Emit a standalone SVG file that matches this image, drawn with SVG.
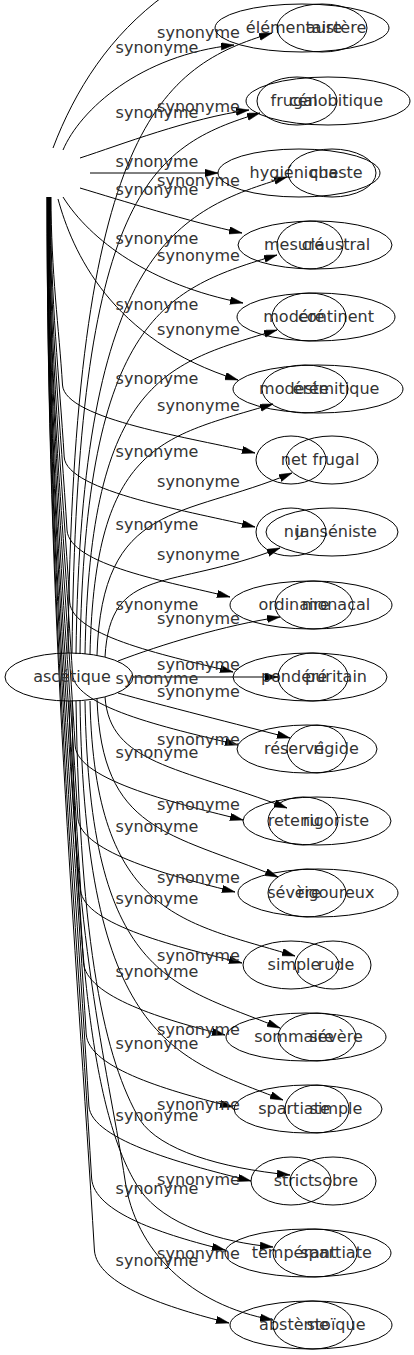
<svg xmlns="http://www.w3.org/2000/svg" width="414" height="1355" viewBox="0 0 414 1355">
<style>
.nd ellipse{fill:none;stroke:#000;stroke-width:1}
.nd text{font-family:"DejaVu Sans",sans-serif;font-size:16px;fill:#333;text-anchor:middle}
#connectors path{fill:none;stroke:#000;stroke-width:1}
#connectors path.a{marker-end:url(#arr)}
#labels text{font-family:"DejaVu Sans",sans-serif;font-size:16px;fill:#333;text-anchor:middle}
</style>
<defs>
<marker id="arr" markerUnits="userSpaceOnUse" markerWidth="14" markerHeight="8" refX="13" refY="3.75" orient="auto">
<path d="M0,0 L13,3.75 L0,7.5 Z" fill="#000" stroke="#000" stroke-width="0.5"/>
</marker>
</defs>
<rect width="414" height="1355" fill="#fff"/>
<g id="connectors">
<path d="M53,148 C75,90 110,35 165,-5"/>
<path class="a" d="M63,150 C80,110 140,55 234,45"/>
<path class="a" d="M80,158 C120,145 190,118 249,110"/>
<path class="a" d="M90,173 L218,173"/>
<path class="a" d="M80,188 C120,200 190,222 242,233"/>
<path class="a" d="M63,197 C90,240 150,285 243,303"/>
<path class="a" d="M58,199 C72,250 110,340 238,380"/>
<path class="a" d="M51,197 C51,272 59.1,328.6 62.5,385 C64.6,420 195,438 255,453"/>
<path class="a" d="M50.5,197 C50.5,301 59.5,379 64.2,457 C66.3,492 195,512 255,527"/>
<path class="a" d="M50,197 C50,330 61,430 67,530 C69.1,565 170,582 230,597"/>
<path class="a" d="M49.5,197 C49.5,359 62.4,480.5 69.7,602 C71.8,637 173,657 233,672"/>
<path class="a" d="M49,197 C49,388 63.9,531 72.5,674 C74.6,709 178,730 238,745"/>
<path class="a" d="M49,197 C49,417 65.3,581.3 75.2,746 C77.3,781 183,805 243,820"/>
<path class="a" d="M48.5,197 C48.5,446 66.7,631.7 77.9,818 C80,853 175,877 235,892"/>
<path class="a" d="M48,197 C48,474 68.2,682.1 80.7,890 C82.8,925 182,948 242,963"/>
<path class="a" d="M48,197 C48,503 69.6,732.5 83.4,962 C85.5,997 165,1020 225,1035"/>
<path class="a" d="M47.5,197 C47.5,532 71.1,782.9 86.2,1034 C88.3,1069 173,1092 233,1107"/>
<path class="a" d="M47.5,197 C47.5,561 72.5,833.3 88.9,1106 C91,1141 191,1166 251,1181"/>
<path class="a" d="M47,197 C47,589 73.9,883.7 91.6,1178 C93.7,1213 165,1235 225,1250"/>
<path class="a" d="M47,197 C47,618 75.4,934.1 94.4,1250 C96.5,1285 169,1308 229,1323"/>
<path class="a" d="M68,653 C73,126 162,66 272,33"/>
<path class="a" d="M72,653 C77,193 150,146 260,113"/>
<path class="a" d="M76,654 C81,249 177,210 287,177"/>
<path class="a" d="M80,654 C85,315 167,288 277,255"/>
<path class="a" d="M85,654 C90,378 167,363 277,330"/>
<path class="a" d="M90,654 C95,442 163,437 273,404"/>
<path class="a" d="M97,655 C102,500 182,519 292,473"/>
<path class="a" d="M105,657 C110,564 170,591 280,548"/>
<path class="a" d="M118,661 C160,645 225,625 280,617"/>
<path class="a" d="M133,677 L278,677"/>
<path class="a" d="M118,693 C160,705 240,725 290,738"/>
<path class="a" d="M105,697 C110,764 177,766 287,808"/>
<path class="a" d="M97,699 C102,832 168,832 278,877"/>
<path class="a" d="M90,701 C95,918 185,922 295,956"/>
<path class="a" d="M85,701 C90,979 170,983 280,1028"/>
<path class="a" d="M80,701 C85,1040 173,1057 283,1100"/>
<path class="a" d="M76,701 C80,950 105,1060 140,1120 C160,1150 220,1168 290,1175"/>
<path class="a" d="M72,701 C76,1000 100,1130 140,1190 C165,1225 220,1242 273,1247"/>
<path class="a" d="M69,701 C75,950 110,1080 125,1180 C135,1250 190,1305 273,1320"/>
<g id="labels">
<text x="157" y="53">synonyme</text>
<text x="157" y="118">synonyme</text>
<text x="157" y="167">synonyme</text>
<text x="157" y="195">synonyme</text>
<text x="157" y="244">synonyme</text>
<text x="157" y="310">synonyme</text>
<text x="157" y="384">synonyme</text>
<text x="157" y="457">synonyme</text>
<text x="157" y="530">synonyme</text>
<text x="157" y="610">synonyme</text>
<text x="157" y="684">synonyme</text>
<text x="157" y="758">synonyme</text>
<text x="157" y="832">synonyme</text>
<text x="157" y="904">synonyme</text>
<text x="157" y="977">synonyme</text>
<text x="157" y="1049">synonyme</text>
<text x="157" y="1121">synonyme</text>
<text x="157" y="1194">synonyme</text>
<text x="157" y="1266">synonyme</text>
<text x="198.5" y="38">synonyme</text>
<text x="198.5" y="112">synonyme</text>
<text x="198.5" y="186">synonyme</text>
<text x="198.5" y="261">synonyme</text>
<text x="198.5" y="335">synonyme</text>
<text x="198.5" y="411">synonyme</text>
<text x="198.5" y="487">synonyme</text>
<text x="198.5" y="560">synonyme</text>
<text x="198.5" y="624">synonyme</text>
<text x="198.5" y="670">synonyme</text>
<text x="198.5" y="697">synonyme</text>
<text x="198.5" y="745">synonyme</text>
<text x="198.5" y="810">synonyme</text>
<text x="198.5" y="883">synonyme</text>
<text x="198.5" y="961">synonyme</text>
<text x="198.5" y="1035">synonyme</text>
<text x="198.5" y="1110">synonyme</text>
<text x="198.5" y="1185">synonyme</text>
<text x="198.5" y="1259">synonyme</text>
</g>
</g>
<g id="n-ascetique" class="nd"><ellipse cx="69" cy="677" rx="64" ry="24"/><text x="72" y="682">ascétique</text></g>
<g id="n-elementaire" class="nd"><ellipse cx="302" cy="28" rx="87" ry="24"/><text x="294" y="33">élémentaire</text></g>
<g id="n-austere" class="nd"><ellipse cx="322" cy="28" rx="45" ry="24"/><text x="336" y="33">austère</text></g>
<g id="n-cenobitique" class="nd"><ellipse cx="328" cy="101" rx="82" ry="24"/><text x="336" y="106">cénobitique</text></g>
<g id="n-frugal-1" class="nd"><ellipse cx="297" cy="101" rx="40" ry="24"/><text x="294" y="106">frugal</text></g>
<g id="n-hygienique" class="nd"><ellipse cx="299" cy="173" rx="81" ry="24"/><text x="294" y="178">hygiénique</text></g>
<g id="n-chaste" class="nd"><ellipse cx="332" cy="173" rx="44" ry="24"/><text x="336" y="178">chaste</text></g>
<g id="n-claustral" class="nd"><ellipse cx="315" cy="245" rx="77" ry="24"/><text x="336" y="250">claustral</text></g>
<g id="n-mesure" class="nd"><ellipse cx="310" cy="245" rx="33" ry="24"/><text x="294" y="250">mesuré</text></g>
<g id="n-continent" class="nd"><ellipse cx="316" cy="317" rx="79" ry="24"/><text x="336" y="322">continent</text></g>
<g id="n-modere" class="nd"><ellipse cx="309" cy="317" rx="37" ry="24"/><text x="294" y="322">modéré</text></g>
<g id="n-eremitique" class="nd"><ellipse cx="318" cy="389" rx="85" ry="24"/><text x="336" y="394">érémitique</text></g>
<g id="n-modeste" class="nd"><ellipse cx="305" cy="389" rx="43" ry="24"/><text x="294" y="394">modeste</text></g>
<g id="n-net" class="nd"><ellipse cx="291" cy="460" rx="35" ry="24"/><text x="294" y="465">net</text></g>
<g id="n-frugal-2" class="nd"><ellipse cx="332" cy="460" rx="46" ry="24"/><text x="336" y="465">frugal</text></g>
<g id="n-janseniste" class="nd"><ellipse cx="332" cy="532" rx="66" ry="24"/><text x="336" y="537">janséniste</text></g>
<g id="n-nu" class="nd"><ellipse cx="291" cy="532" rx="35" ry="24"/><text x="294" y="537">nu</text></g>
<g id="n-ordinaire" class="nd"><ellipse cx="311" cy="605" rx="81" ry="24"/><text x="294" y="610">ordinaire</text></g>
<g id="n-monacal" class="nd"><ellipse cx="314" cy="605" rx="39" ry="24"/><text x="336" y="610">monacal</text></g>
<g id="n-pondere" class="nd"><ellipse cx="310" cy="677" rx="77" ry="24"/><text x="294" y="682">pondéré</text></g>
<g id="n-puritain" class="nd"><ellipse cx="313" cy="677" rx="35" ry="24"/><text x="336" y="682">puritain</text></g>
<g id="n-reserve" class="nd"><ellipse cx="307" cy="749" rx="70" ry="24"/><text x="294" y="754">réservé</text></g>
<g id="n-rigide" class="nd"><ellipse cx="317" cy="749" rx="30" ry="24"/><text x="336" y="754">rigide</text></g>
<g id="n-rigoriste" class="nd"><ellipse cx="317" cy="821" rx="74" ry="24"/><text x="336" y="826">rigoriste</text></g>
<g id="n-retenu" class="nd"><ellipse cx="303" cy="821" rx="35" ry="24"/><text x="294" y="826">retenu</text></g>
<g id="n-rigoureux" class="nd"><ellipse cx="318" cy="893" rx="80" ry="24"/><text x="336" y="898">rigoureux</text></g>
<g id="n-severe-1" class="nd"><ellipse cx="307" cy="893" rx="39" ry="24"/><text x="294" y="898">sévère</text></g>
<g id="n-simple-1" class="nd"><ellipse cx="291" cy="965" rx="48" ry="24"/><text x="294" y="970">simple</text></g>
<g id="n-rude" class="nd"><ellipse cx="333" cy="965" rx="38" ry="24"/><text x="336" y="970">rude</text></g>
<g id="n-sommaire" class="nd"><ellipse cx="306" cy="1037" rx="80" ry="24"/><text x="294" y="1042">sommaire</text></g>
<g id="n-severe-2" class="nd"><ellipse cx="317" cy="1037" rx="39" ry="24"/><text x="336" y="1042">sévère</text></g>
<g id="n-spartiate-1" class="nd"><ellipse cx="308" cy="1109" rx="74" ry="24"/><text x="294" y="1114">spartiate</text></g>
<g id="n-simple-2" class="nd"><ellipse cx="317" cy="1109" rx="32" ry="24"/><text x="336" y="1114">simple</text></g>
<g id="n-strict" class="nd"><ellipse cx="291" cy="1181" rx="40" ry="24"/><text x="294" y="1186">strict</text></g>
<g id="n-sobre" class="nd"><ellipse cx="333" cy="1181" rx="43" ry="24"/><text x="336" y="1186">sobre</text></g>
<g id="n-temperant" class="nd"><ellipse cx="308" cy="1253" rx="83" ry="24"/><text x="294" y="1258">tempérant</text></g>
<g id="n-spartiate-2" class="nd"><ellipse cx="315" cy="1253" rx="42" ry="24"/><text x="336" y="1258">spartiate</text></g>
<g id="n-absteme" class="nd"><ellipse cx="311" cy="1325" rx="81" ry="24"/><text x="294" y="1330">abstème</text></g>
<g id="n-stoique" class="nd"><ellipse cx="313" cy="1325" rx="40" ry="24"/><text x="336" y="1330">stoïque</text></g>
</svg>
